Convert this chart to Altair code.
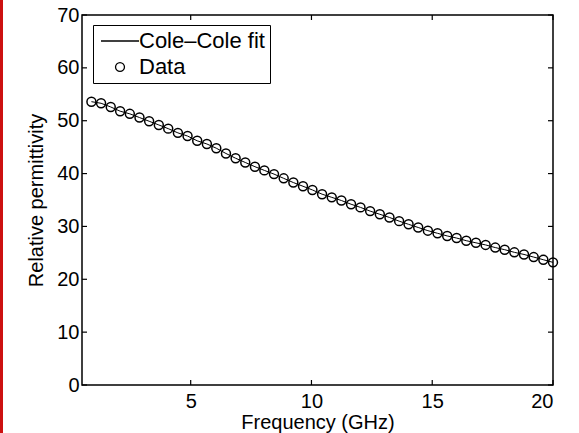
import altair as alt
import pandas as pd

# ---- data ----
freq = [0.89, 1.29, 1.69, 2.08, 2.48, 2.88, 3.28, 3.68, 4.07, 4.47,
        4.87, 5.27, 5.67, 6.06, 6.46, 6.86, 7.26, 7.66, 8.05, 8.45,
        8.85, 9.25, 9.65, 10.04, 10.44, 10.84, 11.24, 11.64, 12.03, 12.43,
        12.83, 13.23, 13.63, 14.02, 14.42, 14.82, 15.22, 15.62, 16.01, 16.41,
        16.81, 17.21, 17.61, 18.00, 18.40, 18.80, 19.20, 19.60, 20.00]
permittivity = [53.6, 53.3, 52.6, 51.8, 51.3, 50.6, 49.9, 49.2, 48.5, 47.7,
                47.1, 46.2, 45.6, 44.8, 43.8, 42.9, 42.1, 41.3, 40.6, 39.9,
                39.1, 38.3, 37.6, 36.9, 36.1, 35.5, 34.9, 34.2, 33.6, 32.9,
                32.3, 31.7, 31.0, 30.4, 29.8, 29.2, 28.7, 28.2, 27.8, 27.3,
                26.9, 26.5, 26.0, 25.6, 25.1, 24.7, 24.2, 23.7, 23.2]
fit_freq = freq
fit_values = permittivity
series_names = ["Cole\u2013Cole fit", "Data"]
x_ticks = [5, 10, 15, 20]
y_ticks = [0, 10, 20, 30, 40, 50, 60, 70]
x_domain = [0.5, 20]
y_domain = [0, 70]

FONT = "Liberation Sans"
W, H = 471, 370

data_df = pd.DataFrame({"f": freq, "v": permittivity, "series": series_names[1]})
fit_df = pd.DataFrame({"f": fit_freq, "v": fit_values, "series": series_names[0]})
xt_df = pd.DataFrame({"t": x_ticks})
yt_df = pd.DataFrame({"t": y_ticks})

xs = alt.Scale(domain=x_domain, nice=False, zero=False)
ys = alt.Scale(domain=y_domain, nice=False)

x_axis = alt.Axis(values=x_ticks, ticks=False, domain=False, grid=False,
                  labelFontSize=20, labelPadding=6, labelColor="black", labelFont=FONT,
                  title="Frequency (GHz)", titleFontSize=20, titleFontWeight="normal",
                  titleFont=FONT, titleColor="black", titlePadding=1)
y_axis = alt.Axis(values=y_ticks, ticks=False, domain=False, grid=False,
                  labelFontSize=20, labelPadding=3, labelColor="black", labelFont=FONT,
                  title="Relative permittivity", titleFontSize=20, titleFontWeight="normal",
                  titleFont=FONT, titleColor="black", titlePadding=10)

fit_line = alt.Chart(fit_df).mark_line(color="black", strokeWidth=1).encode(
    x=alt.X("f:Q", scale=xs, axis=x_axis),
    y=alt.Y("v:Q", scale=ys, axis=y_axis),
)

points = alt.Chart(data_df).mark_point(filled=False, color="black", strokeWidth=1.5, size=80,
                                       opacity=1).encode(
    x=alt.X("f:Q", scale=xs),
    y=alt.Y("v:Q", scale=ys),
    shape=alt.Shape("series:N",
                    scale=alt.Scale(domain=series_names, range=["M-4.25,0L4.25,0", "circle"]),
                    legend=alt.Legend(title=None, orient="none", legendX=11, legendY=10,
                                      padding=5, symbolOffset=11, labelOffset=8, rowPadding=4,
                                      strokeColor="black", fillColor="white",
                                      labelFont=FONT, labelFontSize=22, labelColor="black",
                                      labelLimit=400, symbolSize=80, symbolStrokeWidth=1.3,
                                      symbolStrokeColor="black", symbolFillColor="transparent")),
)

# inward ticks (MATLAB style)
tick_bottom = alt.Chart(xt_df).mark_rule(color="black", strokeWidth=1.2).encode(
    x=alt.X("t:Q", scale=xs), y=alt.value(H), y2=alt.value(H - 5))
tick_top = alt.Chart(xt_df).mark_rule(color="black", strokeWidth=1.2).encode(
    x=alt.X("t:Q", scale=xs), y=alt.value(0), y2=alt.value(5))
tick_left = alt.Chart(yt_df).mark_rule(color="black", strokeWidth=1.2).encode(
    y=alt.Y("t:Q", scale=ys), x=alt.value(0), x2=alt.value(5))
tick_right = alt.Chart(yt_df).mark_rule(color="black", strokeWidth=1.2).encode(
    y=alt.Y("t:Q", scale=ys), x=alt.value(W), x2=alt.value(W - 5))

# red margin line at the left edge of the page
red_edge = alt.Chart(xt_df).mark_rule(color="#cc1111", strokeWidth=2.5).encode(
    x=alt.value(-80.5), y=alt.value(-15), y2=alt.value(H + 48))

chart = alt.layer(
    red_edge, tick_bottom, tick_top, tick_left, tick_right, fit_line, points
).properties(
    width=W, height=H,
    autosize=alt.AutoSizeParams(type="none"),
    padding={"left": 82, "top": 15, "right": 26, "bottom": 48},
    background="white",
).configure_view(
    stroke="black", strokeWidth=1.5
)

chart.save("out.html", embed_options={"renderer": "svg", "actions": False})
